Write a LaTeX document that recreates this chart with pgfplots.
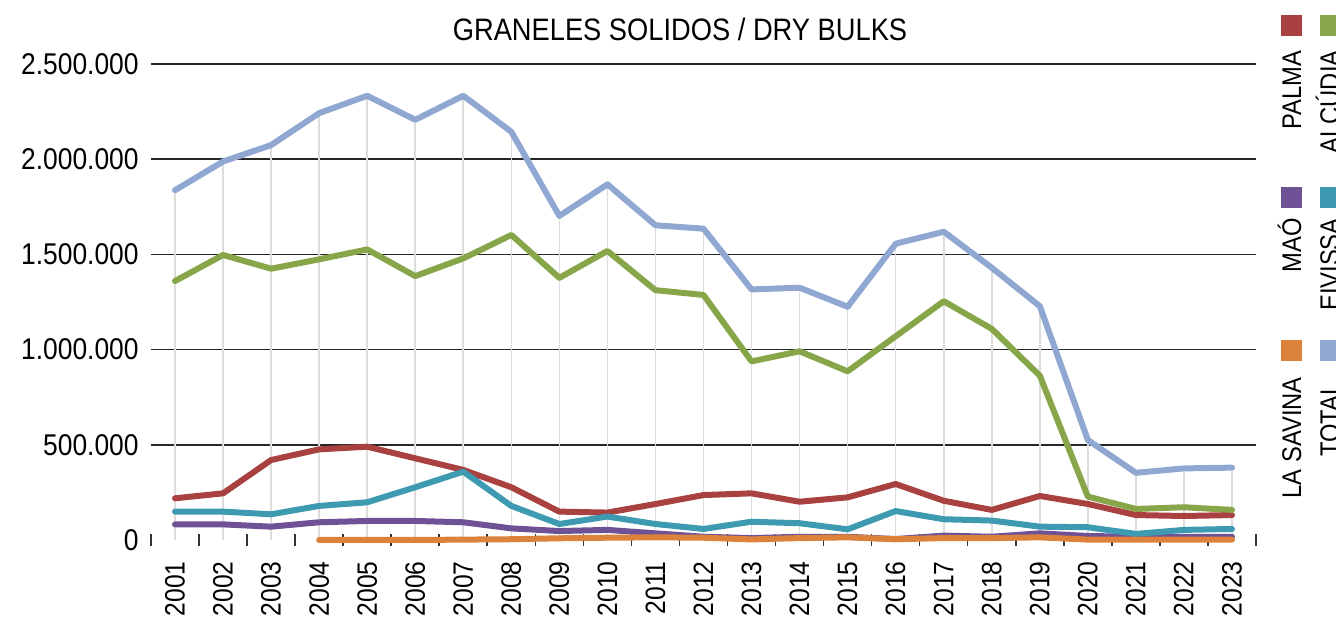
\documentclass[border=0pt]{standalone}
\usepackage{fontspec}
\setmainfont{Liberation Sans}[FakeStretch=0.88]
\usepackage{pgfplots}
\pgfplotsset{compat=1.18}
\definecolor{palmac}{HTML}{A8413F}
\definecolor{alcudiac}{HTML}{87A64A}
\definecolor{maoc}{HTML}{6F5295}
\definecolor{eivissac}{HTML}{3E9AB1}
\definecolor{savinac}{HTML}{DD823B}
\definecolor{totalc}{HTML}{8FA7D1}
\definecolor{dropc}{HTML}{DDDDDD}
\tikzset{
  serie/.style={line width=3pt, line join=round, line cap=round, mark=none},
  legsq/.style={minimum size=10.5pt, inner sep=0pt},
  legtx/.style={rotate=90, anchor=base east, inner sep=0pt,
    font=\fontsize{13.5}{16}\selectfont},
}

\pgfplotstableread{
year value
2001 1837000
2002 1988000
2003 2074000
2004 2242000
2005 2333000
2006 2207000
2007 2333000
2008 2144000
2009 1702000
2010 1868000
2011 1653000
2012 1635000
2013 1316000
2014 1325000
2015 1225000
2016 1556000
2017 1619000
2018 1430000
2019 1228000
2020 525000
2021 353000
2022 376000
2023 380000
}\totaltab

\begin{document}
\begin{tikzpicture}
\begin{axis}[
  at={(0pt,0pt)}, anchor=south west,
  scale only axis, width=552.5pt, height=238pt,
  xmin=2000.5, xmax=2023.5, ymin=0, ymax=2500000,
  clip=false,
  axis line style={draw=none},
  /pgf/number format/assume math mode=true,
  xtick={2001,...,2023},
  minor xtick={2000.5,2001.5,...,2023.5},
  xtick pos=left, ytick pos=left,
  tick align=center,
  major tick length=0pt, minor tick length=6pt,
  minor tick style={black!80, line width=0.8pt},
  xticklabel={\pgfmathprintnumber[fixed,precision=0,1000 sep={}]{\tick}},
  xticklabel style={rotate=90, anchor=east, inner sep=0pt,
    font=\fontsize{14}{16}\selectfont},
  xticklabel shift=10.5pt,
  ytick={500000,1000000,1500000,2000000,2500000},
  scaled y ticks=false,
  yticklabel={\pgfmathprintnumber[fixed,precision=0,1000 sep={.}]{\tick}},
  yticklabel style={anchor=east, inner sep=0pt,
    font=\fontsize{15}{17}\selectfont},
  yticklabel shift=6pt,
  extra y ticks={0}, extra y tick labels={0},
  extra y tick style={grid=none},
  ymajorgrids,
  major grid style={black!85, line width=0.75pt},
]
% drop lines from the total down to the axis
\addplot[ycomb, draw=dropc, line width=0.8pt, mark=none, forget plot]
  table[x=year, y=value] {\totaltab};

\addplot[serie, palmac] coordinates {(2001,219000) (2002,245000) (2003,420000)
  (2004,476000) (2005,490000) (2006,429000) (2007,368000) (2008,277000)
  (2009,149000) (2010,144000) (2011,189000) (2012,236000) (2013,245000)
  (2014,201000) (2015,224000) (2016,294000) (2017,206000) (2018,158000)
  (2019,231000) (2020,189000) (2021,131000) (2022,126000) (2023,131000)};
\addplot[serie, alcudiac] coordinates {(2001,1360000) (2002,1497000)
  (2003,1425000) (2004,1474000) (2005,1526000) (2006,1386000) (2007,1479000)
  (2008,1602000) (2009,1377000) (2010,1518000) (2011,1312000) (2012,1287000)
  (2013,938000) (2014,991000) (2015,886000) (2016,1070000) (2017,1254000)
  (2018,1109000) (2019,863000) (2020,228000) (2021,163000) (2022,172000)
  (2023,158000)};
\addplot[serie, maoc] coordinates {(2001,82000) (2002,82000) (2003,70000)
  (2004,93000) (2005,100000) (2006,100000) (2007,93000) (2008,61000)
  (2009,47000) (2010,53000) (2011,35000) (2012,17000) (2013,10000)
  (2014,17000) (2015,17000) (2016,5000) (2017,23000) (2018,17000)
  (2019,35000) (2020,21000) (2021,17000) (2022,17000) (2023,17000)};
\addplot[serie, eivissac] coordinates {(2001,149000) (2002,149000)
  (2003,135000) (2004,179000) (2005,198000) (2006,277000) (2007,359000)
  (2008,179000) (2009,84000) (2010,123000) (2011,84000) (2012,58000)
  (2013,96000) (2014,88000) (2015,56000) (2016,152000) (2017,109000)
  (2018,102000) (2019,70000) (2020,67000) (2021,32000) (2022,53000)
  (2023,58000)};
\addplot[serie, savinac] coordinates {(2004,0) (2005,0) (2006,0) (2007,2000)
  (2008,4000) (2009,9000) (2010,12000) (2011,14000) (2012,12000)
  (2013,3000) (2014,10000) (2015,14000) (2016,4000) (2017,10000)
  (2018,10000) (2019,14000) (2020,2000) (2021,2000) (2022,2000) (2023,2000)};
\addplot[serie, totalc] table[x=year, y=value] {\totaltab};
\end{axis}

\node[anchor=base, inner sep=0pt, font=\fontsize{15.5}{18}\selectfont]
  at (264.5pt,249.5pt) {GRANELES SOLIDOS / DRY BULKS};

% legend, rotated, cut at the right edge
\node[legsq, fill=palmac] at (570pt,257pt) {};
\node[legtx] at (575pt,245pt) {PALMA};
\node[legsq, fill=maoc] at (570pt,171pt) {};
\node[legtx] at (575pt,161pt) {MAÓ};
\node[legsq, fill=savinac] at (570pt,94.5pt) {};
\node[legtx] at (575pt,81.5pt) {LA SAVINA};
\node[legsq, fill=alcudiac] at (589.5pt,257pt) {};
\node[legtx] at (594pt,245pt) {ALCÚDIA};
\node[legsq, fill=eivissac] at (589.5pt,171pt) {};
\node[legtx] at (594pt,161pt) {EIVISSA};
\node[legsq, fill=totalc] at (589.5pt,94.5pt) {};
\node[legtx] at (594pt,79pt) {TOTAL};

\pgfresetboundingbox
\path[use as bounding box] (-75.5pt,-39.5pt) rectangle (592.5pt,270pt);
\end{tikzpicture}
\end{document}
